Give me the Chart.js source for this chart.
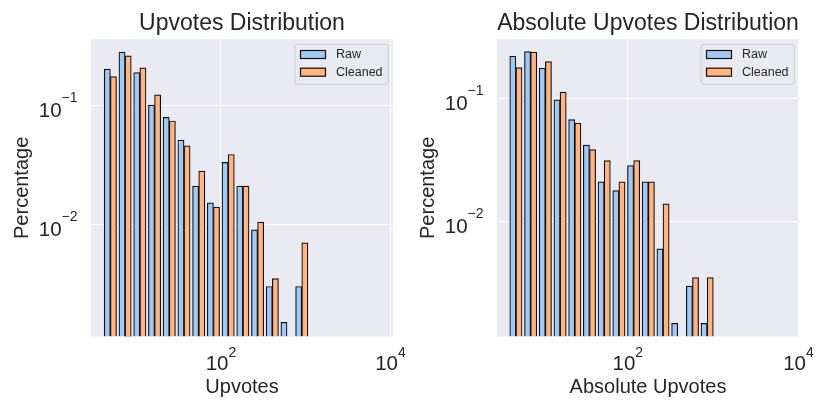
<!DOCTYPE html>
<html>
<head>
<meta charset="utf-8">
<script src="https://cdn.jsdelivr.net/npm/chart.js@4.4.1/dist/chart.umd.min.js"></script>
<style>
html, body { margin: 0; padding: 0; background: #fff; }
#wrap { position: relative; width: 830px; height: 415px; overflow: hidden; }
canvas { position: absolute; top: 0; }
#up-chart { left: 0; }
#abs-chart { left: 406px; }
</style>
</head>
<body>
<div id="wrap">
  <canvas id="up-chart" width="415" height="415"></canvas>
  <canvas id="abs-chart" width="415" height="415"></canvas>
</div>
<script>
// bin centres (log-spaced) and share of posts per bin
const upBins = [4.96, 7.40, 11.04, 16.47, 24.56, 36.63, 54.64, 81.50, 121.6, 181.3, 270.4, 403.5, 601.7, 897.6];
const upRaw = [0.200, 0.278, 0.187, 0.100, 0.0789, 0.0508, 0.0210, 0.0152, 0.0331, 0.0210, 0.00903, 0.00303, 0.00152, 0.00303];
const upCleaned = [0.173, 0.258, 0.205, 0.122, 0.0736, 0.0455, 0.0280, 0.0140, 0.0386, 0.0210, 0.0105, 0.00353, null, 0.00704];

const absBins = [4.88, 7.26, 10.80, 16.07, 23.89, 35.53, 52.84, 78.6, 116.9, 173.9, 258.6, 384.6, 572.0, 850.7];
const absRaw = [0.219, 0.239, 0.175, 0.0969, 0.0670, 0.0416, 0.0209, 0.0178, 0.0284, 0.0209, 0.00598, 0.00149, 0.00299, 0.00149];
const absCleaned = [0.177, 0.236, 0.198, 0.112, 0.0626, 0.0383, 0.0312, 0.0209, 0.0312, 0.0209, 0.0139, null, 0.0035, 0.0035];

const xTicks = [100, 10000];
const yTicks = [0.01, 0.1];

const TEXT = "#262626";
const FONT = "'Liberation Sans', Arial, Helvetica, sans-serif";

const plotBg = {
    id: "plotBg",
    beforeDraw(chart) {
        const a = chart.chartArea, ctx = chart.ctx;
        ctx.save();
        ctx.fillStyle = "#eaeaf2";
        ctx.fillRect(a.left, a.top, a.right - a.left, a.bottom - a.top);
        ctx.restore();
    }
};

function powParts(v) {
    const e = Math.round(Math.log10(v));
    return ["10", e < 0 ? "\u2212" + (-e) : String(e)];
}

// 10^n labels with a raised exponent, placed through the chart's own scales
const sciTicks = {
    id: "sciTicks",
    afterDraw(chart) {
        const ctx = chart.ctx, a = chart.chartArea;
        const xs = chart.scales.x, ys = chart.scales.y;
        const big = "20.5px " + FONT, small = "14px " + FONT;
        ctx.save();
        ctx.fillStyle = TEXT; ctx.textBaseline = "alphabetic"; ctx.textAlign = "left";
        xs.ticks.forEach(t => {
            const [b, s] = powParts(t.value);
            const px = xs.getPixelForValue(t.value);
            ctx.font = big; const wb = ctx.measureText(b).width;
            ctx.font = small; const ws = ctx.measureText(s).width;
            const x0 = px - (wb + ws) / 2;
            ctx.font = big; ctx.fillText(b, x0, a.bottom + 33.5);
            ctx.font = small; ctx.fillText(s, x0 + wb, a.bottom + 20.2);
        });
        ys.ticks.forEach(t => {
            const [b, s] = powParts(t.value);
            const py = ys.getPixelForValue(t.value);
            ctx.font = big; const wb = ctx.measureText(b).width;
            ctx.font = small; const ws = ctx.measureText(s).width;
            const x0 = a.left - 13.5 - wb - ws;
            ctx.font = big; ctx.fillText(b, x0, py + 11.7);
            ctx.font = small; ctx.fillText(s, x0 + wb, py - 3.3);
        });
        ctx.restore();
    }
};

const boxLegend = {
    id: "boxLegend",
    afterDatasetsDraw(chart) {
        const ctx = chart.ctx, a = chart.chartArea;
        const w = 93.3, h = 40, x = a.right - 4.7 - w, y = a.top + 5.1;
        ctx.save();
        ctx.beginPath(); ctx.roundRect(x, y, w, h, 3);
        ctx.fillStyle = "rgba(234,234,242,0.8)"; ctx.fill();
        ctx.strokeStyle = "#cccccc"; ctx.lineWidth = 1; ctx.stroke();
        ctx.font = "12.5px " + FONT; ctx.textBaseline = "middle"; ctx.textAlign = "left";
        chart.data.datasets.forEach((ds, i) => {
            const py = y + 5.7 + i * 17.7;
            ctx.fillStyle = ds.backgroundColor; ctx.fillRect(x + 5, py, 26, 9);
            ctx.strokeStyle = ds.borderColor; ctx.lineWidth = 1.2; ctx.strokeRect(x + 5.5, py + 0.5, 25, 8);
            ctx.fillStyle = TEXT; ctx.fillText(ds.label, x + 41, py + 4.7);
        });
        ctx.restore();
    }
};

function histChart(id, title, xLabel, bins, raw, cleaned, xMin, xMax, yMin, yMax) {
    const pts = vals => bins.map((x, i) => ({ x, y: vals[i] })).filter(p => p.y !== null);
    const bar = { borderColor: "#111111", borderWidth: 1.2, barThickness: 6.15 };
    return new Chart(document.getElementById(id), {
        type: "bar",
        data: { datasets: [
            Object.assign({ label: "Raw", data: pts(raw), backgroundColor: "#a1c9f4" }, bar),
            Object.assign({ label: "Cleaned", data: pts(cleaned), backgroundColor: "#ffb482" }, bar)
        ] },
        options: {
            responsive: false, animation: false,
            layout: { padding: { left: 0, right: 22, top: 0, bottom: 0 } },
            plugins: {
                legend: { display: false }, tooltip: { enabled: false },
                title: { display: true, text: title, fullSize: false, color: TEXT,
                    font: { size: 23, family: FONT, weight: "normal" }, padding: { top: 9.9, bottom: 1.7 } }
            },
            scales: {
                x: { type: "logarithmic", min: xMin, max: xMax, offset: false,
                    afterBuildTicks: s => { s.ticks = xTicks.map(v => ({ value: v })); },
                    afterFit: s => { s.height = 78.5; },
                    grid: { color: "#ffffff", lineWidth: 1, drawTicks: false, offset: false },
                    border: { display: false }, ticks: { display: false },
                    title: { display: true, text: xLabel, color: TEXT, font: { size: 20, family: FONT }, padding: { top: 0, bottom: 15.9 } } },
                y: { type: "logarithmic", min: yMin, max: yMax,
                    afterBuildTicks: s => { s.ticks = yTicks.map(v => ({ value: v })); },
                    afterFit: s => { s.width = 91; },
                    grid: { color: "#ffffff", lineWidth: 1, drawTicks: false },
                    border: { display: false }, ticks: { display: false },
                    title: { display: true, text: "Percentage", color: TEXT, font: { size: 20, family: FONT }, padding: { top: 10.5, bottom: 0 } } }
            }
        },
        plugins: [plotBg, sciTicks, boxLegend]
    });
}

histChart("up-chart", "Upvotes Distribution", "Upvotes", upBins, upRaw, upCleaned, 2.93, 10700, 0.001156, 0.356);
histChart("abs-chart", "Absolute Upvotes Distribution", "Absolute Upvotes", absBins, absRaw, absCleaned, 2.93, 10140, 0.001164, 0.301);
</script>
</body>
</html>
